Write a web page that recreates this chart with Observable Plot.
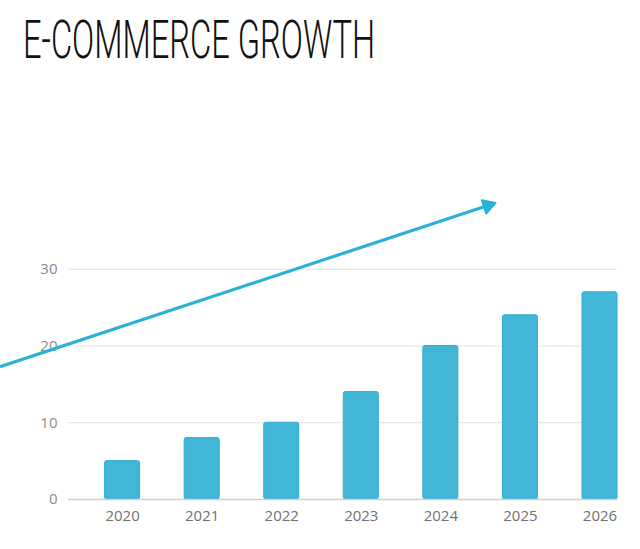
<!DOCTYPE html>
<html>
<head>
<meta charset="utf-8">
<script src="https://cdn.jsdelivr.net/npm/d3@7"></script>
<script src="https://cdn.jsdelivr.net/npm/@observablehq/plot@0.6"></script>
<style>
  html, body { margin: 0; padding: 0; background: #fff; }
  #wrap { position: relative; width: 640px; height: 549px; overflow: hidden; }
  #title { position: absolute; left: 23px; top: 14px; margin: 0; font-family: Roboto, "Liberation Sans Narrow", sans-serif; font-weight: 300; font-size: 53px; line-height: 1; color: #111; white-space: nowrap; transform-origin: 0 0; }
</style>
</head>
<body>
<div id="wrap">
  <div id="chart"></div>
  <h1 id="title">E-COMMERCE GROWTH</h1>
</div>
<script>
const years = [2020, 2021, 2022, 2023, 2024, 2025, 2026];
const values = [5, 8, 10, 14, 20, 24, 27];
const yTicks = [0, 10, 20, 30];
const trendYears = [2018.46, 2024.59];
const trendValues = [17.3, 38.3];

const data = years.map((year, i) => ({year, value: values[i]}));
const trend = [{x1: trendYears[0], y1: trendValues[0], x2: trendYears[1], y2: trendValues[1]}];
const head = [{x: trendYears[1], y: trendValues[1]}];

const barColor = "#41b6d6";
const lineColor = "#2ab2d6";
const halfWidth = 0.22;

const chart = Plot.plot({
  width: 640,
  height: 549,
  marginLeft: 68,
  marginRight: 23,
  marginTop: 192,
  marginBottom: 50,
  style: {fontFamily: "'Open Sans', sans-serif", fontSize: "15px", background: "transparent", overflow: "visible"},
  x: {domain: [2019.32, 2026.22], ticks: years, tickFormat: "d", tickSize: 0, label: null},
  y: {domain: [0, 40], ticks: yTicks, tickSize: 0, label: null},
  marks: [
    Plot.gridY(yTicks.filter(t => t > 0), {stroke: "#e2e2e2", strokeOpacity: 1, strokeWidth: 1}),
    Plot.axisY({ticks: yTicks, tickSize: 0, tickPadding: 11, color: "#8c8c8c", fontSize: 15, label: null}),
    Plot.axisX({ticks: years, tickFormat: "d", tickSize: 0, tickPadding: 11, color: "#707070", fontSize: 15, label: null}),
    Plot.rectY(data, {x1: d => d.year - halfWidth, x2: d => d.year + halfWidth, y: "value", fill: barColor, stroke: "#2bb0d4", strokeWidth: 1, rx: 2}),
    Plot.ruleY([0], {stroke: "#d0d0d0", strokeWidth: 1.5}),
    Plot.link(trend, {x1: "x1", y1: "y1", x2: "x2", y2: "y2", stroke: lineColor, strokeWidth: 3.2}),
    Plot.dot(head, {x: "x", y: "y", symbol: "triangle", r: 5.2, fill: lineColor, stroke: lineColor, strokeWidth: 2, strokeLinejoin: "round", rotate: 71.7})
  ]
});
document.getElementById("chart").appendChild(chart);

// fit the condensed title to the reference width
const t = document.getElementById("title");
const w = t.getBoundingClientRect().width;
t.style.transform = `scaleX(${352 / w})`;
</script>
</body>
</html>
